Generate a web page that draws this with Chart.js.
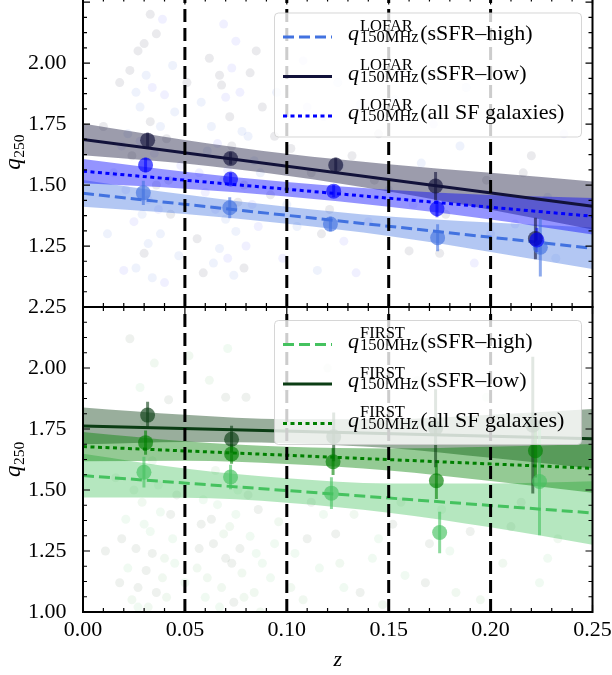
<!DOCTYPE html>
<html>
<head>
<meta charset="utf-8">
<script src="https://cdn.jsdelivr.net/npm/chart.js@4.4.0/dist/chart.umd.min.js"></script>
<style>
  html, body { margin: 0; padding: 0; background: #fff; }
  #wrap { position: relative; width: 612px; height: 675px; overflow: hidden; }
  canvas { position: absolute; left: 0; }
  #topChart { top: -10px; }
  #bottomChart { top: 290px; }
</style>
</head>
<body>
<div id="wrap">
  <canvas id="topChart" width="612" height="330"></canvas>
  <canvas id="bottomChart" width="612" height="385"></canvas>
</div>
<script>
// axes
const zTicks = [0, 0.05, 0.10, 0.15, 0.20, 0.25];
const topQTicks = [1.25, 1.50, 1.75, 2.00];
const bottomQTicks = [1.00, 1.25, 1.50, 1.75, 2.00, 2.25];
const zBoundaries = [0.05, 0.10, 0.15, 0.20];

// linear fits (z = 0 and z = 0.25) and their confidence bands
const fitZ = [0, 0.25];
const bandZ = [0, 0.05, 0.10, 0.15, 0.20, 0.25];

const lofarHighFit = [1.466, 1.241];
const lofarLowFit = [1.687, 1.413];
const lofarAllFit = [1.557, 1.372];
const lofarHighUpper = [1.521, 1.461, 1.411, 1.371, 1.346, 1.326];
const lofarHighLower = [1.411, 1.381, 1.341, 1.291, 1.226, 1.156];
const lofarLowUpper = [1.752, 1.685, 1.628, 1.585, 1.550, 1.515];
const lofarLowLower = [1.622, 1.588, 1.538, 1.474, 1.399, 1.318];
const lofarAllUpper = [1.607, 1.555, 1.513, 1.481, 1.459, 1.447];
const lofarAllLower = [1.507, 1.485, 1.453, 1.411, 1.359, 1.297];

const firstHighFit = [1.559, 1.406];
const firstLowFit = [1.762, 1.710];
const firstAllFit = [1.678, 1.589];
const firstHighUpper = [1.649, 1.588, 1.548, 1.527, 1.527, 1.536];
const firstHighLower = [1.469, 1.468, 1.448, 1.407, 1.347, 1.276];
const firstLowUpper = [1.838, 1.808, 1.790, 1.790, 1.808, 1.832];
const firstLowLower = [1.687, 1.697, 1.692, 1.672, 1.632, 1.588];
const firstAllUpper = [1.738, 1.700, 1.677, 1.670, 1.677, 1.689];
const firstAllLower = [1.618, 1.620, 1.607, 1.580, 1.537, 1.489];

// binned medians with errors
const lofarHighZ = [0.0296, 0.0720, 0.1214, 0.1740, 0.2244];
const lofarHighQ = [1.468, 1.407, 1.340, 1.284, 1.245];
const lofarHighErr = [0.050, 0.043, 0.030, 0.055, 0.120];
const lofarLowZ = [0.0317, 0.0724, 0.1240, 0.1730, 0.2220];
const lofarLowQ = [1.684, 1.609, 1.582, 1.496, 1.281];
const lofarLowErr = [0.030, 0.025, 0.030, 0.058, 0.085];
const lofarAllZ = [0.0307, 0.0724, 0.1230, 0.1737, 0.2227];
const lofarAllQ = [1.582, 1.525, 1.475, 1.403, 1.275];
const lofarAllErr = [0.030, 0.025, 0.025, 0.035, 0.050];

const firstHighZ = [0.0299, 0.0724, 0.1219, 0.1750, 0.2240];
const firstHighQ = [1.573, 1.553, 1.487, 1.326, 1.535];
const firstHighErr = [0.063, 0.050, 0.065, 0.085, 0.220];
const firstLowZ = [0.0317, 0.0729, 0.1230, 0.1730, 0.2207];
const firstLowQ = [1.807, 1.708, 1.718, 1.753, 1.766];
const firstLowErr = [0.055, 0.055, 0.100, 0.160, 0.280];
const firstAllZ = [0.0307, 0.0729, 0.1227, 0.1734, 0.2220];
const firstAllQ = [1.694, 1.648, 1.616, 1.538, 1.661];
const firstAllErr = [0.050, 0.040, 0.055, 0.075, 0.110];

// individual galaxies (faint background), [z, q]
const lofarGalaxies = [
  [0.018,1.92],[0.022,1.71],[0.025,1.35],[0.027,2.05],[0.028,1.82],[0.029,1.58],[0.030,1.22],[0.031,1.95],
  [0.032,1.44],[0.033,1.76],[0.034,1.12],[0.035,1.63],[0.036,2.12],[0.038,1.30],[0.040,1.87],[0.042,1.52],
  [0.044,1.99],[0.020,1.15],[0.024,1.62],[0.026,1.88],[0.037,1.40],[0.041,1.69],[0.015,1.55],[0.039,2.18],
  [0.056,1.28],[0.058,1.84],[0.060,1.47],[0.062,2.02],[0.064,1.18],[0.066,1.67],[0.068,1.91],[0.070,1.36],
  [0.071,1.56],[0.072,1.78],[0.074,1.13],[0.075,2.09],[0.076,1.43],[0.078,1.72],[0.080,1.25],[0.082,1.96],
  [0.084,1.60],[0.086,1.33],[0.088,1.82],[0.067,1.24],[0.073,1.98],[0.079,1.50],[0.061,1.64],[0.069,2.16],
  [0.092,1.46],[0.095,1.88],[0.098,1.20],[0.102,1.65],[0.105,1.33],[0.108,2.01],[0.112,1.55],[0.115,1.15],
  [0.118,1.78],[0.121,1.40],[0.125,1.92],[0.128,1.27],[0.132,1.62],[0.136,1.83],[0.140,1.35],[0.145,1.71],
  [0.150,1.48],[0.156,1.96],[0.160,1.23],[0.166,1.59],[0.172,1.75],[0.178,1.38],[0.185,1.66],[0.192,1.18],
  [0.198,1.52],[0.205,1.80],[0.212,1.34],[0.220,1.62],[0.228,1.45],[0.236,1.71],[0.010,1.74],[0.012,1.30],
  [0.048,1.58],[0.051,1.92],[0.047,1.21],
  [0.021,1.48],[0.023,1.97],[0.026,1.16],[0.028,1.68],[0.030,2.08],[0.032,1.26],[0.034,1.90],[0.036,1.50],
  [0.038,1.74],[0.040,1.10],[0.043,1.38],[0.045,1.80],[0.019,1.66],[0.033,2.20],[0.029,1.38],
  [0.057,1.55],[0.059,1.14],[0.063,1.74],[0.065,1.40],[0.067,1.95],[0.069,1.52],[0.071,1.20],[0.073,1.66],
  [0.075,1.31],[0.077,1.88],[0.079,1.16],[0.081,1.70],[0.083,1.42],[0.085,2.05],[0.087,1.55],[0.070,1.86],
  [0.094,1.70],[0.100,1.42],[0.110,1.82],[0.117,1.30],[0.126,1.58],[0.134,1.14],[0.143,1.52],[0.153,1.85],
  [0.162,1.42],[0.175,1.22],[0.188,1.90],[0.200,1.30],[0.216,1.55],[0.232,1.20]
];
const firstGalaxies = [
  [0.018,1.12],[0.021,1.38],[0.024,1.05],[0.026,1.26],[0.028,1.92],[0.029,1.45],[0.031,1.17],[0.033,1.33],
  [0.035,2.02],[0.036,1.08],[0.038,1.41],[0.040,1.22],[0.042,1.87],[0.044,1.30],[0.016,1.55],[0.023,2.12],
  [0.034,1.62],[0.039,1.14],[0.046,1.48],[0.027,1.02],[0.056,1.18],[0.058,1.36],[0.060,1.06],[0.062,1.95],
  [0.064,1.28],[0.066,1.44],[0.068,1.10],[0.070,1.22],[0.071,2.08],[0.072,1.35],[0.074,1.04],[0.076,1.50],
  [0.078,1.16],[0.080,1.88],[0.082,1.31],[0.084,1.08],[0.086,1.42],[0.088,1.20],[0.065,1.58],[0.077,1.26],
  [0.092,1.14],[0.096,1.37],[0.100,1.92],[0.104,1.24],[0.108,1.05],[0.112,1.45],[0.116,1.18],[0.120,2.00],
  [0.124,1.32],[0.128,1.10],[0.133,1.40],[0.138,1.85],[0.142,1.22],[0.147,1.03],[0.152,1.36],[0.158,1.15],
  [0.164,1.95],[0.170,1.28],[0.176,1.42],[0.183,1.08],[0.190,1.33],[0.198,1.88],[0.206,1.20],[0.215,1.45],
  [0.224,1.12],[0.233,1.30],[0.011,1.25],[0.050,1.12],[0.052,2.05],
  [0.019,1.30],[0.022,1.18],[0.025,1.50],[0.027,1.10],[0.030,1.36],[0.032,1.02],[0.034,1.24],[0.037,1.52],
  [0.041,1.06],[0.043,1.40],[0.045,1.20],[0.030,1.78],
  [0.057,1.26],[0.059,1.46],[0.061,1.14],[0.063,1.38],[0.067,1.02],[0.069,1.32],[0.073,1.20],[0.075,1.40],
  [0.079,1.06],[0.081,1.48],[0.085,1.24],[0.087,1.00],[0.070,1.88],
  [0.094,1.28],[0.102,1.10],[0.110,1.30],[0.118,1.40],[0.126,1.20],[0.136,1.08],[0.145,1.30],[0.156,1.45],
  [0.168,1.12],[0.180,1.25],[0.195,1.05],[0.210,1.35],[0.228,1.22]
];

const legendLabels = ['(sSFR\u2013high)', '(sSFR\u2013low)', '(all SF galaxies)'];

const SERIF = '"Liberation Serif", "Times New Roman", serif';
const DASHED = [11, 5];
const DOTTED = [4, 3.5];

function pts(xs, ys) {
    return xs.map((x, i) => ({ x: x, y: ys[i] }));
}

function errorPts(xs, ys, es) {
    const out = [];
    xs.forEach((x, i) => {
        out.push({ x: x, y: ys[i] - es[i] }, { x: x, y: ys[i] + es[i] }, { x: x, y: null });
    });
    return out;
}

function rgba(rgb, a) {
    return 'rgba(' + rgb.join(',') + ',' + a + ')';
}

function seriesDatasets(s) {
    return [
        { type: 'line', data: pts(bandZ, s.lower), borderWidth: 0, pointRadius: 0, fill: false,
          cubicInterpolationMode: 'monotone', order: 50 },
        { type: 'line', data: pts(bandZ, s.upper), borderWidth: 0, pointRadius: 0, fill: '-1',
          backgroundColor: rgba(s.rgb, s.bandAlpha), cubicInterpolationMode: 'monotone', order: 50 },
        { type: 'line', data: pts(fitZ, s.fit), borderColor: rgba(s.rgb, 1), borderWidth: 3,
          borderDash: s.dash, pointRadius: 0, fill: false, order: 20 },
        { type: 'line', data: errorPts(s.z, s.q, s.err), borderColor: rgba(s.rgb, 0.6), borderWidth: 3,
          pointRadius: 0, spanGaps: false, fill: false, order: 11 },
        { type: 'scatter', data: pts(s.z, s.q), backgroundColor: rgba(s.rgb, 0.65), borderWidth: 0,
          pointRadius: 7.5, order: 10 }
    ];
}

function galaxyDataset(list, colors) {
    return {
        type: 'scatter',
        data: list.map(p => ({ x: p[0], y: p[1] })),
        backgroundColor: ctx => colors[ctx.dataIndex % colors.length],
        borderWidth: 0,
        pointRadius: 4.5,
        order: 100
    };
}

const panelDecor = {
    id: 'panelDecor',
    afterDatasetsDraw(chart, args, o) {
        const { ctx, chartArea: a, scales: { x, y } } = chart;
        ctx.save();

        // redshift bin edges
        ctx.strokeStyle = '#000';
        ctx.lineWidth = 3;
        ctx.setLineDash([13, 6]);
        zBoundaries.forEach(v => {
            const px = x.getPixelForValue(v);
            ctx.beginPath();
            ctx.moveTo(px, a.bottom);
            ctx.lineTo(px, a.top);
            ctx.stroke();
        });
        ctx.setLineDash([]);

        // legend
        const bx = a.left + 191, by = a.top + o.legendTop, bw = 307, bh = 124;
        ctx.beginPath();
        ctx.roundRect(bx + 0.5, by + 0.5, bw, bh, 4);
        ctx.fillStyle = 'rgba(255,255,255,0.8)';
        ctx.fill();
        ctx.strokeStyle = 'rgba(204,204,204,0.8)';
        ctx.lineWidth = 1;
        ctx.stroke();
        o.entries.forEach((e, i) => {
            const ry = by + 24.5 + i * 39.5;
            ctx.beginPath();
            ctx.setLineDash(e.dash);
            ctx.strokeStyle = e.color;
            ctx.lineWidth = 3;
            ctx.moveTo(bx + 9, ry);
            ctx.lineTo(bx + 58, ry);
            ctx.stroke();
            ctx.setLineDash([]);

            ctx.fillStyle = '#000';
            ctx.textAlign = 'left';
            ctx.textBaseline = 'alphabetic';
            let tx = bx + 74;
            ctx.font = 'italic 22px ' + SERIF;
            ctx.fillText('q', tx, ry + 3);
            tx += ctx.measureText('q').width + 1;
            ctx.font = '16.5px ' + SERIF;
            ctx.fillText(o.survey, tx, ry - 6.5);
            ctx.fillText('150MHz', tx, ry + 5);
            tx += Math.max(ctx.measureText(o.survey).width, ctx.measureText('150MHz').width) + 1.5;
            ctx.font = '22px ' + SERIF;
            ctx.fillText(legendLabels[i], tx, ry + 3);
        });

        // ticks, all pointing inwards
        ctx.strokeStyle = '#000';
        ctx.lineWidth = 1.2;
        ctx.beginPath();
        for (let k = 0; k <= 25; k++) {
            const px = x.getPixelForValue(k / 100);
            const len = k % 5 === 0 ? 7 : 4;
            ctx.moveTo(px, a.bottom); ctx.lineTo(px, a.bottom - len);
            ctx.moveTo(px, a.top); ctx.lineTo(px, a.top + len);
        }
        for (let k = 0; k <= 24; k++) {
            const v = 1 + k * 0.0625;
            if (v > y.max) break;
            const py = y.getPixelForValue(v);
            const len = k % 4 === 0 ? 7 : 4;
            ctx.moveTo(a.left, py); ctx.lineTo(a.left + len, py);
            ctx.moveTo(a.right, py); ctx.lineTo(a.right - len, py);
        }
        ctx.stroke();

        // frame
        ctx.lineWidth = 2;
        ctx.strokeRect(a.left, a.top, a.right - a.left, a.bottom - a.top);

        // y axis label q_250
        ctx.translate(19.5, (a.top + a.bottom) / 2);
        ctx.rotate(-Math.PI / 2);
        ctx.fillStyle = '#000';
        ctx.textBaseline = 'alphabetic';
        ctx.textAlign = 'left';
        ctx.font = 'italic 23px ' + SERIF;
        const wq = ctx.measureText('q').width;
        ctx.font = '15.5px ' + SERIF;
        const ws = ctx.measureText('250').width;
        const x0 = -(wq + ws) / 2;
        ctx.font = 'italic 23px ' + SERIF;
        ctx.fillText('q', x0, 0);
        ctx.font = '15.5px ' + SERIF;
        ctx.fillText('250', x0 + wq + 0.5, 4);

        ctx.restore();
    }
};

function panelOptions(cfg) {
    return {
        responsive: false,
        animation: false,
        devicePixelRatio: 1,
        layout: { padding: { left: 0, right: 19.5, top: cfg.padTop, bottom: cfg.padBottom } },
        plugins: {
            legend: { display: false },
            tooltip: { enabled: false },
            panelDecor: cfg.decor
        },
        scales: {
            x: {
                type: 'linear',
                min: 0,
                max: 0.25,
                display: cfg.showX,
                grid: { display: false },
                border: { display: false },
                afterBuildTicks: s => { s.ticks = zTicks.map(v => ({ value: v })); },
                afterFit: s => { s.height = cfg.xHeight; s.paddingLeft = 0; s.paddingRight = 0; },
                ticks: {
                    autoSkip: false,
                    maxRotation: 0,
                    padding: -3,
                    color: '#000',
                    font: { family: SERIF, size: 22 },
                    callback: v => v.toFixed(2)
                },
                title: {
                    display: cfg.showX,
                    text: 'z',
                    color: '#000',
                    font: { family: SERIF, size: 22, style: 'italic' },
                    padding: { top: 0, bottom: 2 }
                }
            },
            y: {
                type: 'linear',
                min: cfg.yMin,
                max: cfg.yMax,
                grid: { display: false },
                border: { display: false },
                afterBuildTicks: s => { s.ticks = cfg.yTicks.map(v => ({ value: v })); },
                afterFit: s => { s.width = 83; s.paddingTop = 0; s.paddingBottom = 0; },
                ticks: {
                    padding: 8.5,
                    color: '#000',
                    font: { family: SERIF, size: 22 },
                    callback: v => v.toFixed(2)
                }
            }
        }
    };
}

const LOFAR_HIGH = [66, 114, 224];
const LOFAR_LOW = [18, 18, 58];
const LOFAR_ALL = [0, 0, 255];
const FIRST_HIGH = [69, 194, 95];
const FIRST_LOW = [11, 61, 20];
const FIRST_ALL = [0, 128, 0];

new Chart(document.getElementById('topChart'), {
    type: 'line',
    data: {
        datasets: [
            ...seriesDatasets({ rgb: LOFAR_ALL, bandAlpha: 0.42, dash: DOTTED, fit: lofarAllFit,
                upper: lofarAllUpper, lower: lofarAllLower, z: lofarAllZ, q: lofarAllQ, err: lofarAllErr }),
            ...seriesDatasets({ rgb: LOFAR_LOW, bandAlpha: 0.42, dash: [], fit: lofarLowFit,
                upper: lofarLowUpper, lower: lofarLowLower, z: lofarLowZ, q: lofarLowQ, err: lofarLowErr }),
            ...seriesDatasets({ rgb: LOFAR_HIGH, bandAlpha: 0.4, dash: DASHED, fit: lofarHighFit,
                upper: lofarHighUpper, lower: lofarHighLower, z: lofarHighZ, q: lofarHighQ, err: lofarHighErr }),
            galaxyDataset(lofarGalaxies, ['rgba(18,18,58,0.09)', 'rgba(66,114,224,0.09)', 'rgba(0,0,255,0.06)'])
        ]
    },
    options: panelOptions({
        padTop: 7, padBottom: 13, showX: false, xHeight: 0,
        yMin: 1.0, yMax: 2.269, yTicks: topQTicks,
        decor: {
            legendTop: 15,
            survey: 'LOFAR',
            entries: [
                { color: rgba(LOFAR_HIGH, 1), dash: DASHED },
                { color: rgba(LOFAR_LOW, 1), dash: [] },
                { color: rgba(LOFAR_ALL, 1), dash: DOTTED }
            ]
        }
    }),
    plugins: [panelDecor]
});

new Chart(document.getElementById('bottomChart'), {
    type: 'line',
    data: {
        datasets: [
            ...seriesDatasets({ rgb: FIRST_ALL, bandAlpha: 0.42, dash: DOTTED, fit: firstAllFit,
                upper: firstAllUpper, lower: firstAllLower, z: firstAllZ, q: firstAllQ, err: firstAllErr }),
            ...seriesDatasets({ rgb: FIRST_LOW, bandAlpha: 0.42, dash: [], fit: firstLowFit,
                upper: firstLowUpper, lower: firstLowLower, z: firstLowZ, q: firstLowQ, err: firstLowErr }),
            ...seriesDatasets({ rgb: FIRST_HIGH, bandAlpha: 0.4, dash: DASHED, fit: firstHighFit,
                upper: firstHighUpper, lower: firstHighLower, z: firstHighZ, q: firstHighQ, err: firstHighErr }),
            galaxyDataset(firstGalaxies, ['rgba(11,61,20,0.07)', 'rgba(69,194,95,0.08)', 'rgba(0,128,0,0.06)'])
        ]
    },
    options: panelOptions({
        padTop: 17, padBottom: 0, showX: true, xHeight: 63,
        yMin: 1.0, yMax: 2.25, yTicks: bottomQTicks,
        decor: {
            legendTop: 13,
            survey: 'FIRST',
            entries: [
                { color: rgba(FIRST_HIGH, 1), dash: DASHED },
                { color: rgba(FIRST_LOW, 1), dash: [] },
                { color: rgba(FIRST_ALL, 1), dash: DOTTED }
            ]
        }
    }),
    plugins: [panelDecor]
});
</script>
</body>
</html>
